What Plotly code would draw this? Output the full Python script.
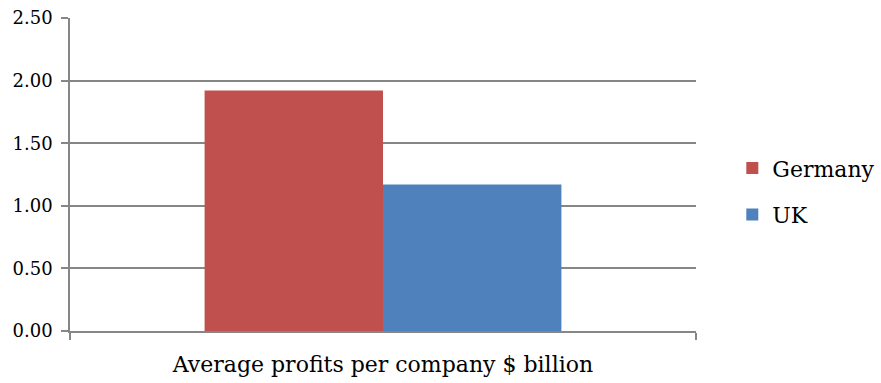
import plotly.graph_objects as go

category = ["Average profits per company $ billion"]
germany = [1.92]
uk = [1.17]
y_ticks = [0.0, 0.5, 1.0, 1.5, 2.0, 2.5]
y_tick_labels = ["0.00", "0.50", "1.00", "1.50", "2.00", "2.50"]

FONT = "DejaVu Serif"
GRID = "#868686"

fig = go.Figure()
fig.add_trace(go.Bar(name="Germany", x=category, y=germany,
                     marker=dict(color="#C0504D", line=dict(width=0)),
                     legendgroup="g"))
fig.add_trace(go.Bar(name="UK", x=category, y=uk,
                     marker=dict(color="#4F81BD", line=dict(width=0)),
                     legendgroup="u"))

fig.update_layout(
    width=881, height=383,
    margin=dict(l=70, r=185, t=18, b=52, autoexpand=False),
    paper_bgcolor="white", plot_bgcolor="white",
    barmode="group", bargap=0.43, bargroupgap=0,
    font=dict(family=FONT, size=17, color="black"),
    showlegend=True,
    legend=dict(x=1.058, y=0.445, xanchor="left", yanchor="middle",
                font=dict(family=FONT, size=22),
                traceorder="grouped", tracegroupgap=15,
                bgcolor="rgba(0,0,0,0)"),
)
fig.update_yaxes(range=[0, 2.5], tickvals=y_ticks, ticktext=y_tick_labels,
                 showgrid=True, gridcolor=GRID, gridwidth=1.5,
                 showline=True, linecolor=GRID, linewidth=1.5,
                 ticks="outside", ticklen=7, tickcolor=GRID, tickwidth=1.5,
                 ticklabelstandoff=5,
                 zeroline=False, tickfont=dict(size=18))
fig.update_xaxes(range=[-0.5, 0.5], showline=True, linecolor=GRID, linewidth=1.5,
                 ticks="outside", tickson="boundaries", ticklen=7,
                 tickcolor=GRID, tickwidth=1.5, showgrid=False,
                 ticklabelstandoff=13,
                 tickfont=dict(size=22))

fig.write_html("out.html")
